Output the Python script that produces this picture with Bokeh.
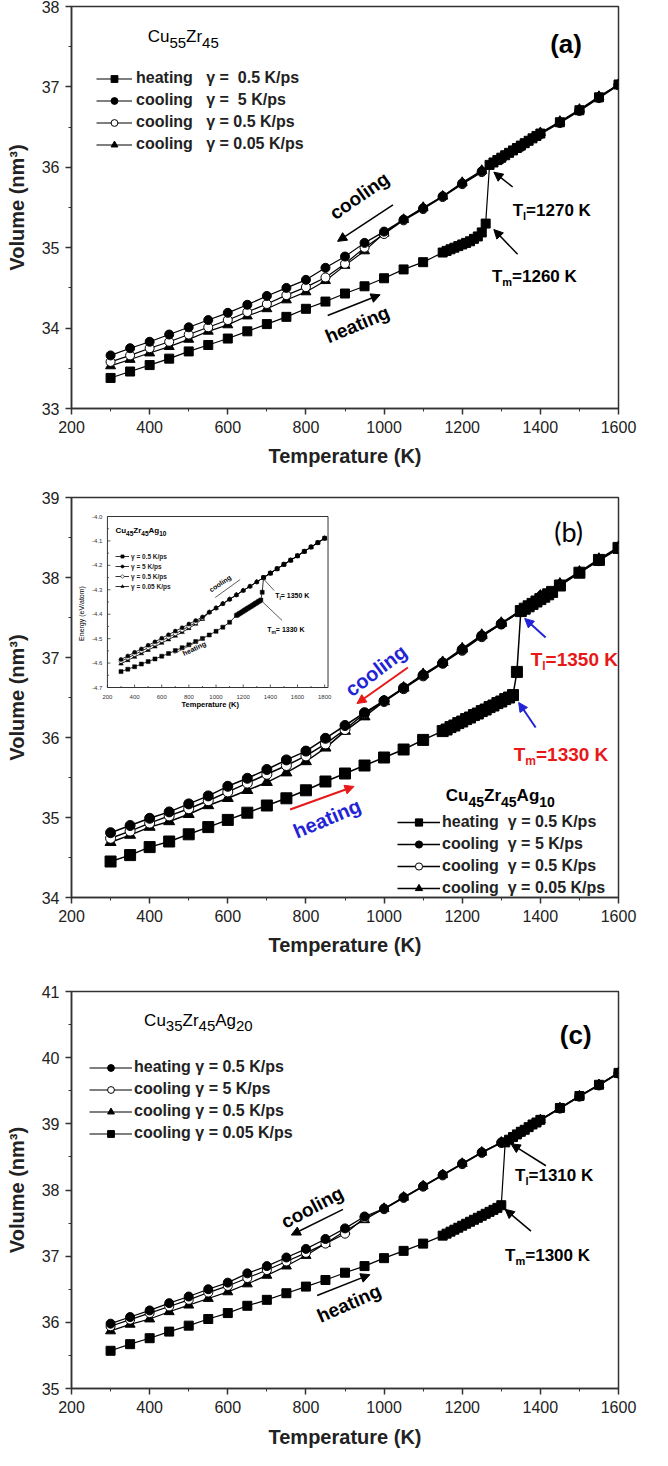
import math
from bokeh.plotting import figure
from bokeh.models import (Range1d, Arrow, NormalHead, Legend, LegendItem,
                          FixedTicker, ColumnDataSource)
from bokeh.layouts import column
from bokeh.embed import file_html
from bokeh.resources import INLINE
from bokeh.core.properties import value

FONT = "Liberation Sans"
INK = "#222222"

# ---------------- data ----------------
X_TICKS = [200, 400, 600, 800, 1000, 1200, 1400, 1600]
X_MINOR = [300, 500, 700, 900, 1100, 1300, 1500]
A_Y_TICKS = [33, 34, 35, 36, 37, 38]
A_Y_MINOR = [33.5, 34.5, 35.5, 36.5, 37.5]
B_Y_TICKS = [34, 35, 36, 37, 38, 39]
B_Y_MINOR = [34.5, 35.5, 36.5, 37.5, 38.5]
C_Y_TICKS = [35, 36, 37, 38, 39, 40, 41]
C_Y_MINOR = [35.5, 36.5, 37.5, 38.5, 39.5, 40.5]

# panel (a) Cu55Zr45
A_HEAT_T = [300, 350, 400, 450, 500, 550, 600, 650, 700, 750, 800, 850, 900, 950, 1000, 1050, 1100,
            1150, 1160, 1170, 1180, 1190, 1200, 1210, 1220, 1230, 1240, 1250, 1260,
            1270, 1280, 1290, 1300, 1310, 1320, 1330, 1340, 1350, 1360, 1370, 1380, 1390, 1400,
            1450, 1500, 1550, 1600]
A_HEAT_V = [33.38, 33.46, 33.54, 33.62, 33.71, 33.79, 33.87, 33.96, 34.05, 34.14, 34.24, 34.33, 34.43, 34.52, 34.62, 34.73, 34.82,
            34.94, 34.96, 34.98, 35.00, 35.02, 35.04, 35.06, 35.08, 35.11, 35.14, 35.19, 35.30,
            36.03, 36.06, 36.09, 36.12, 36.15, 36.18, 36.21, 36.24, 36.27, 36.30, 36.33, 36.36, 36.39, 36.42,
            36.56, 36.71, 36.87, 37.03]
A_COOL_T = [300, 350, 400, 450, 500, 550, 600, 650, 700, 750, 800, 850, 900, 950, 1000,
            1050, 1100, 1150, 1200, 1250, 1300, 1350, 1400, 1450, 1500, 1550, 1600]
A_C5_V = [33.66, 33.75, 33.83, 33.92, 34.01, 34.10, 34.19, 34.29, 34.40, 34.50, 34.60, 34.75, 34.89, 35.06, 35.20,
          35.35, 35.49, 35.64, 35.80, 35.95, 36.11, 36.26, 36.42, 36.56, 36.71, 36.87, 37.03]
A_C05_V = [33.58, 33.66, 33.75, 33.83, 33.92, 34.01, 34.10, 34.20, 34.30, 34.41, 34.51, 34.63, 34.80, 35.00, 35.17,
           35.34, 35.48, 35.63, 35.79, 35.94, 36.10, 36.25, 36.41, 36.55, 36.70, 36.86, 37.02]
A_C005_V = [33.53, 33.61, 33.69, 33.77, 33.86, 33.96, 34.04, 34.15, 34.24, 34.35, 34.45, 34.59, 34.78, 34.96, 35.18,
            35.35, 35.50, 35.64, 35.81, 35.96, 36.12, 36.27, 36.43, 36.57, 36.72, 36.88, 37.03]

# panel (b) Cu45Zr45Ag10
B_HEAT_T = [300, 350, 400, 450, 500, 550, 600, 650, 700, 750, 800, 850, 900, 950, 1000, 1050, 1100,
            1150, 1160, 1170, 1180, 1190, 1200, 1210, 1220, 1230, 1240, 1250, 1260, 1270, 1280, 1290, 1300, 1310, 1320, 1330,
            1340,
            1350, 1360, 1370, 1380, 1390, 1400, 1410, 1420, 1430,
            1450, 1500, 1550, 1600]
B_HEAT_V = [34.45, 34.53, 34.63, 34.70, 34.79, 34.88, 34.97, 35.06, 35.15, 35.24, 35.34, 35.45, 35.55, 35.65, 35.75, 35.85, 35.97,
            36.08, 36.10, 36.13, 36.15, 36.18, 36.20, 36.23, 36.25, 36.28, 36.30, 36.33, 36.35, 36.38, 36.40, 36.43, 36.45, 36.48, 36.50, 36.53,
            36.82,
            37.58, 37.61, 37.64, 37.67, 37.70, 37.73, 37.76, 37.79, 37.82,
            37.90, 38.06, 38.22, 38.37]
B_COOL_T = [300, 350, 400, 450, 500, 550, 600, 650, 700, 750, 800, 850, 900, 950,
            1000, 1050, 1100, 1150, 1200, 1250, 1300, 1350, 1400, 1450, 1500, 1550, 1600]
B_C5_V = [34.81, 34.90, 34.99, 35.07, 35.17, 35.27, 35.39, 35.49, 35.60, 35.72, 35.83, 35.99, 36.15, 36.31,
          36.46, 36.62, 36.78, 36.93, 37.10, 37.27, 37.42, 37.58, 37.76, 37.91, 38.06, 38.22, 38.37]
B_C05_V = [34.74, 34.83, 34.93, 35.02, 35.11, 35.21, 35.32, 35.43, 35.54, 35.65, 35.77, 35.92, 36.10, 36.30,
           36.45, 36.61, 36.77, 36.93, 37.09, 37.26, 37.42, 37.58, 37.75, 37.90, 38.06, 38.21, 38.36]
B_C005_V = [34.69, 34.78, 34.88, 34.95, 35.04, 35.15, 35.24, 35.34, 35.44, 35.56, 35.70, 35.87, 36.08, 36.26,
            36.45, 36.62, 36.79, 36.94, 37.11, 37.28, 37.43, 37.59, 37.77, 37.92, 38.07, 38.23, 38.38]

# inset of (b): energy
IN_X_TICKS = [200, 400, 600, 800, 1000, 1200, 1400, 1600, 1800]
IN_X_MINOR = [300, 500, 700, 900, 1100, 1300, 1500, 1700]
IN_Y_TICKS = [-4.0, -4.1, -4.2, -4.3, -4.4, -4.5, -4.6, -4.7]
IN_Y_LABELS = ["-4.0", "-4.1", "-4.2", "-4.3", "-4.4", "-4.5", "-4.6", "-4.7"]
IN_Y_MINOR = [-4.05, -4.15, -4.25, -4.35, -4.45, -4.55, -4.65]
IN_HEAT_T = [300, 350, 400, 450, 500, 550, 600, 650, 700, 750, 800, 850, 900, 950, 1000, 1050, 1100, 1150,
             1160, 1170, 1180, 1190, 1200, 1210, 1220, 1230, 1240, 1250, 1260, 1270, 1280, 1290, 1300, 1310, 1320, 1330,
             1340,
             1350, 1400, 1450, 1500, 1550, 1600, 1650, 1700, 1750, 1800]
IN_HEAT_E = [-4.635, -4.625, -4.615, -4.604, -4.594, -4.583, -4.572, -4.561, -4.549, -4.537, -4.525, -4.512, -4.499, -4.485, -4.470, -4.453, -4.433, -4.405,
             -4.402, -4.398, -4.395, -4.391, -4.388, -4.384, -4.381, -4.377, -4.374, -4.370, -4.367, -4.363, -4.360, -4.356, -4.353, -4.349, -4.346, -4.342,
             -4.310,
             -4.250, -4.232, -4.214, -4.196, -4.179, -4.161, -4.143, -4.125, -4.107, -4.089]
IN_COOL_T = [300, 350, 400, 450, 500, 550, 600, 650, 700, 750, 800, 850, 900,
             950, 1000, 1050, 1100, 1150, 1200, 1250, 1300, 1350, 1400, 1450, 1500, 1550, 1600, 1650, 1700, 1750, 1800]
IN_LIQ_E = [-4.392, -4.375, -4.357, -4.339, -4.321, -4.303, -4.286, -4.268, -4.250,
            -4.232, -4.214, -4.196, -4.179, -4.161, -4.143, -4.125, -4.107, -4.089]
IN_C5_E = [-4.585, -4.571, -4.556, -4.542, -4.527, -4.513, -4.498, -4.484, -4.469, -4.455, -4.440, -4.426, -4.411] + IN_LIQ_E
IN_C05_E = [-4.593, -4.579, -4.565, -4.551, -4.537, -4.522, -4.508, -4.494, -4.480, -4.465, -4.450, -4.434, -4.416] + IN_LIQ_E
IN_C005_E = [-4.603, -4.589, -4.575, -4.561, -4.547, -4.533, -4.518, -4.504, -4.489, -4.474, -4.458, -4.440, -4.420] + IN_LIQ_E

# panel (c) Cu35Zr45Ag20
C_SQ_T = [300, 350, 400, 450, 500, 550, 600, 650, 700, 750, 800, 850, 900, 950, 1000, 1050, 1100,
          1150, 1160, 1170, 1180, 1190, 1200, 1210, 1220, 1230, 1240, 1250, 1260, 1270, 1280, 1290, 1300,
          1310, 1320, 1330, 1340, 1350, 1360, 1370, 1380, 1390, 1400,
          1450, 1500, 1550, 1600]
C_SQ_V = [35.57, 35.67, 35.76, 35.86, 35.95, 36.05, 36.14, 36.25, 36.34, 36.44, 36.54, 36.64, 36.75, 36.85, 36.97, 37.08, 37.19,
          37.31, 37.34, 37.37, 37.40, 37.43, 37.46, 37.49, 37.52, 37.55, 37.58, 37.61, 37.64, 37.67, 37.70, 37.73, 37.77,
          38.72, 38.76, 38.80, 38.84, 38.88, 38.91, 38.95, 38.99, 39.02, 39.06,
          39.24, 39.42, 39.59, 39.77]
C_COOL_T = [300, 350, 400, 450, 500, 550, 600, 650, 700, 750, 800, 850, 900, 950,
            1000, 1050, 1100, 1150, 1200, 1250, 1300, 1350, 1400, 1450, 1500, 1550, 1600]
C_FC_V = [35.98, 36.08, 36.18, 36.29, 36.39, 36.50, 36.60, 36.74, 36.85, 36.98, 37.11, 37.26, 37.42, 37.60,
          37.72, 37.89, 38.06, 38.23, 38.40, 38.57, 38.72, 38.88, 39.06, 39.24, 39.42, 39.59, 39.77]
C_OC_V = [35.94, 36.04, 36.14, 36.24, 36.34, 36.45, 36.55, 36.67, 36.79, 36.92, 37.05, 37.19, 37.34, 37.58,
          37.71, 37.88, 38.05, 38.22, 38.39, 38.56, 38.71, 38.87, 39.05, 39.23, 39.41, 39.58, 39.76]
C_TR_V = [35.87, 35.97, 36.05, 36.16, 36.26, 36.36, 36.46, 36.58, 36.71, 36.85, 37.01, 37.19, 37.38, 37.55,
          37.72, 37.89, 38.06, 38.23, 38.40, 38.57, 38.72, 38.88, 39.06, 39.24, 39.42, 39.59, 39.77]

# ---------------- geometry (page pixels of the reference) ----------------
GA = dict(px=(76, 629), py=(9.5, 416), x=(200, 1600), y=(38, 33))
GB = dict(px=(79, 627), py=(507, 907), x=(200, 1600), y=(39, 34))
GC = dict(px=(76, 626), py=(1003, 1404), x=(200, 1600), y=(41, 35))
GI = dict(px=(115, 336), py=(526, 697), x=(200, 1825), y=(-4.0, -4.7))


def d(g, px, py):
    (a0, a1), (b0, b1) = g["px"], g["py"]
    (x0, x1), (y0, y1) = g["x"], g["y"]
    return (x0 + (px - a0) / (a1 - a0) * (x1 - x0),
            y0 + (py - b0) / (b1 - b0) * (y1 - y0))


BOLD_W = {'C': .722, 'u': .611, 'Z': .611, 'r': .389, 'A': .722, 'g': .611, 'T': .611, 'l': .278,
          'm': .889, '=': .584, ' ': .278, 'K': .722}
REG_W = {'C': .722, 'u': .556, 'Z': .611, 'r': .333, 'A': .667, 'g': .556, 'T': .611, 'l': .222,
         'm': .833, '=': .584, ' ': .278, 'K': .667}


def tw(s, fs, style):
    t = BOLD_W if style == "bold" else REG_W
    return sum(t.get(c, 0.556) for c in s) * fs


def txt(p, x, y, s, size, color="black", style="bold", align="left", baseline="alphabetic",
        angle=0.0, xo=0.0, yo=0.0, font=FONT, rn=None):
    kw = {}
    if rn:
        kw = dict(x_range_name=rn[0], y_range_name=rn[1])
    p.text(x=[x], y=[y], text=[s], x_offset=xo, y_offset=yo, angle=angle,
           text_font=value(font), text_font_size=value(f"{size}px"), text_font_style=style,
           text_color=color, text_align=align, text_baseline=baseline, **kw)


def ptxt(p, g, px, py, s, size, rn=None, **kw):
    x, y = d(g, px, py)
    txt(p, x, y, s, size, rn=rn, **kw)


def rich(p, g, px, py, parts, size, sub, drop, color="black", style="bold", rn=None):
    x, y = d(g, px, py)
    off = 0.0
    for s, is_sub in parts:
        fs = sub if is_sub else size
        txt(p, x, y, s, fs, color=color, style=style, xo=off, yo=(drop if is_sub else 0), rn=rn)
        off += tw(s, fs, style)


def arrow(p, g, p0, p1, color="black", lw=1.5, head=9):
    x0, y0 = d(g, *p0)
    x1, y1 = d(g, *p1)
    p.add_layout(Arrow(end=NormalHead(size=head, fill_color=color, line_color=color, line_width=1),
                       x_start=x0, y_start=y0, x_end=x1, y_end=y1,
                       line_color=color, line_width=lw))


def make_fig(h, top, bottom, left, frame_w, yr, yticks, yminor):
    p = figure(width=660, height=h, x_range=Range1d(200, 1600), y_range=Range1d(*yr),
               output_backend="svg", toolbar_location=None,
               min_border_left=left, min_border_right=660 - left - frame_w,
               min_border_top=top, min_border_bottom=bottom)
    p.xaxis.ticker = FixedTicker(ticks=X_TICKS, minor_ticks=X_MINOR)
    p.yaxis.ticker = FixedTicker(ticks=yticks, minor_ticks=yminor)
    p.xaxis.axis_label = "Temperature (K)"
    p.yaxis.axis_label = "Volume (nm³)"
    for ax in (p.xaxis, p.yaxis):
        ax.axis_line_color = "#333333"
        ax.axis_line_width = 1.5
        ax.major_tick_line_color = "#333333"
        ax.minor_tick_line_color = "#333333"
        ax.major_tick_line_width = 1.5
        ax.major_tick_out = 6
        ax.major_tick_in = 0
        ax.minor_tick_out = 3
        ax.minor_tick_in = 0
        ax.major_label_text_font = FONT
        ax.major_label_text_font_size = "16px"
        ax.major_label_text_color = INK
        ax.axis_label_text_font = FONT
        ax.axis_label_text_font_size = "20px"
        ax.axis_label_text_font_style = "bold"
        ax.axis_label_text_color = INK
        ax.major_label_standoff = 6
    p.xaxis.axis_label_standoff = 9
    p.yaxis.axis_label_standoff = 11
    p.grid.visible = False
    p.outline_line_color = "#333333"
    p.outline_line_width = 1.5
    p.outline_line_alpha = 1.0
    return p


def series(p, T, V, marker, size, fill, lw=1.2, mlw=1.0, rn=None, line_color="black"):
    kw = {}
    if rn:
        kw = dict(x_range_name=rn[0], y_range_name=rn[1])
    src = ColumnDataSource(dict(T=T, V=V))
    l = p.line("T", "V", source=src, line_color=line_color, line_width=lw, **kw)
    s = p.scatter("T", "V", source=src, marker=marker, size=size, fill_color=fill,
                  line_color="black", line_width=mlw, **kw)
    return [l, s]


def legend(p, items, loc, fs, gw, gh, spacing, standoff=4):
    leg = Legend(items=[LegendItem(label=lab, renderers=r) for lab, r in items], location=loc,
                 label_text_font=FONT, label_text_font_size=f"{fs}px", label_text_font_style="bold",
                 label_text_color=INK, glyph_width=gw, glyph_height=gh, label_height=gh,
                 spacing=spacing, padding=0, margin=0, label_standoff=standoff,
                 border_line_alpha=0, background_fill_alpha=0)
    p.add_layout(leg)


# ================= panel (a) =================
pa = make_fig(483, 6, 75, 68, 553, (33, 38), A_Y_TICKS, A_Y_MINOR)
ra4 = series(pa, A_COOL_T, A_C005_V, "triangle", 10, "black")
ra3 = series(pa, A_COOL_T, A_C05_V, "circle", 9, "white")
ra2 = series(pa, A_COOL_T, A_C5_V, "circle", 9, "black")
ra1 = series(pa, A_HEAT_T, A_HEAT_V, "square", 9, "black")
legend(pa, [("heating   γ =  0.5 K/ps", ra1), ("cooling   γ =  5 K/ps", ra2),
            ("cooling   γ = 0.5 K/ps", ra3), ("cooling   γ = 0.05 K/ps", ra4)],
       (25, 255), 16, 36, 17, 4)
rich(pa, GA, 153, 40, [("Cu", 0), ("55", 1), ("Zr", 0), ("45", 1)], 17, 15, 6, style="normal")
ptxt(pa, GA, 576, 47, "(a)", 26, align="center", baseline="middle")
ptxt(pa, GA, 367, 201, "cooling", 19, align="center", baseline="middle", angle=math.radians(35))
arrow(pa, GA, (401, 210), (345, 247))
ptxt(pa, GA, 365, 331, "heating", 19, align="center", baseline="middle", angle=math.radians(23))
arrow(pa, GA, (335, 322), (388, 301))
arrow(pa, GA, (522, 192), (503, 177))
rich(pa, GA, 522, 216, [("T", 0), ("l", 1), ("=1270 K", 0)], 17, 11, 5)
arrow(pa, GA, (527, 260), (503, 235))
rich(pa, GA, 501, 283, [("T", 0), ("m", 1), ("=1260 K", 0)], 17, 11, 5)

# ================= panel (b) =================
pb = make_fig(494, 14, 80, 71, 548, (34, 39), B_Y_TICKS, B_Y_MINOR)
# inset ranges mapped onto the frame of (b)
fx0 = (GI["px"][0] - GB["px"][0]) / (GB["px"][1] - GB["px"][0])
fx1 = (GI["px"][1] - GB["px"][0]) / (GB["px"][1] - GB["px"][0])
fy0 = (GI["py"][0] - GB["py"][0]) / (GB["py"][1] - GB["py"][0])
fy1 = (GI["py"][1] - GB["py"][0]) / (GB["py"][1] - GB["py"][0])
kx = (GI["x"][1] - GI["x"][0]) / (fx1 - fx0)
ix0 = GI["x"][0] - fx0 * kx
ky = (GI["y"][0] - GI["y"][1]) / (fy1 - fy0)
iy_top = GI["y"][0] + fy0 * ky
pb.extra_x_ranges = {"ix": Range1d(ix0, ix0 + kx)}
pb.extra_y_ranges = {"iy": Range1d(iy_top - ky, iy_top)}
RN = ("ix", "iy")

rb4 = series(pb, B_COOL_T, B_C005_V, "triangle", 11, "black", lw=1.5)
rb3 = series(pb, B_COOL_T, B_C05_V, "circle", 10, "white", lw=1.5)
rb2 = series(pb, B_COOL_T, B_C5_V, "circle", 10, "black", lw=1.5)
rb1 = series(pb, B_HEAT_T, B_HEAT_V, "square", 11, "black", lw=1.5)
legend(pb, [("heating  γ = 0.5 K/ps", rb1), ("cooling  γ = 5 K/ps", rb2),
            ("cooling  γ = 0.5 K/ps", rb3), ("cooling  γ = 0.05 K/ps", rb4)],
       (326, 0), 16, 43, 18, 4, standoff=2)
rich(pb, GB, 454, 805, [("Cu", 0), ("45", 1), ("Zr", 0), ("45", 1), ("Ag", 0), ("10", 1)], 17, 14, 6)
ptxt(pb, GB, 577, 541, "(b)", 27, align="center", baseline="middle", style="normal", font="Lato")
BLUE = "#2323d6"
RED = "#e81818"
ptxt(pb, GB, 384, 680, "cooling", 20, color=BLUE, align="center", baseline="middle", angle=math.radians(37))
arrow(pb, GB, (416, 677), (365, 713), color=RED, lw=2)
ptxt(pb, GB, 335, 828, "heating", 20, color=BLUE, align="center", baseline="middle", angle=math.radians(23))
arrow(pb, GB, (298, 819), (362, 796), color=RED, lw=2)
arrow(pb, GB, (554, 647), (533, 628), color=BLUE, lw=2)
rich(pb, GB, 539, 669, [("T", 0), ("l", 1), ("=1350 K", 0)], 19, 12, 6, color=RED)
arrow(pb, GB, (544, 737), (527, 712), color=BLUE, lw=2)
rich(pb, GB, 522, 764, [("T", 0), ("m", 1), ("=1330 K", 0)], 19, 12, 6, color=RED)

# ---- inset ----
pb.quad(left=[GI["x"][0]], right=[GI["x"][1]], bottom=[GI["y"][1]], top=[GI["y"][0]],
        fill_color="white", line_color="#333333", line_width=1, x_range_name="ix", y_range_name="iy")
pb.ray(x=IN_X_TICKS, y=[GI["y"][1]] * len(IN_X_TICKS), length=3, angle=math.pi / 2,
       length_units="screen", line_color="#333333", line_width=0.8, x_range_name="ix", y_range_name="iy")
pb.ray(x=IN_X_MINOR, y=[GI["y"][1]] * len(IN_X_MINOR), length=1.5, angle=math.pi / 2,
       length_units="screen", line_color="#333333", line_width=0.8, x_range_name="ix", y_range_name="iy")
pb.ray(x=[GI["x"][0]] * len(IN_Y_TICKS), y=IN_Y_TICKS, length=3, angle=0,
       length_units="screen", line_color="#333333", line_width=0.8, x_range_name="ix", y_range_name="iy")
pb.ray(x=[GI["x"][0]] * len(IN_Y_MINOR), y=IN_Y_MINOR, length=1.5, angle=0,
       length_units="screen", line_color="#333333", line_width=0.8, x_range_name="ix", y_range_name="iy")
lab_y = d(GI, 0, 706)[1]
pb.text(x=IN_X_TICKS, y=[lab_y] * len(IN_X_TICKS), text=[str(t) for t in IN_X_TICKS],
        text_font=value(FONT), text_font_size=value("6px"), text_color="#333333",
        text_align="center", text_baseline="middle", x_range_name="ix", y_range_name="iy")
lab_x = d(GI, 110, 0)[0]
pb.text(x=[lab_x] * len(IN_Y_TICKS), y=IN_Y_TICKS, text=IN_Y_LABELS,
        text_font=value(FONT), text_font_size=value("6px"), text_color="#333333",
        text_align="right", text_baseline="middle", x_range_name="ix", y_range_name="iy")
ptxt(pb, GI, 89, 623, "Energy (eV/atom)", 7, rn=RN, style="normal", align="center", baseline="middle",
     angle=math.pi / 2)
ptxt(pb, GI, 218, 714, "Temperature (K)", 7.5, rn=RN, align="center", baseline="middle")
ri4 = series(pb, IN_COOL_T, IN_C005_E, "triangle", 4.5, "black", lw=0.8, mlw=0.5, rn=RN)
ri3 = series(pb, IN_COOL_T, IN_C05_E, "circle", 4, "white", lw=0.8, mlw=0.5, rn=RN)
ri2 = series(pb, IN_COOL_T, IN_C5_E, "circle", 4, "black", lw=0.8, mlw=0.5, rn=RN)
ri1 = series(pb, IN_HEAT_T, IN_HEAT_E, "square", 4, "black", lw=0.8, mlw=0.5, rn=RN)
leg_in = Legend(items=[LegendItem(label="γ = 0.5 K/ps", renderers=ri1),
                       LegendItem(label="γ = 5 K/ps", renderers=ri2),
                       LegendItem(label="γ = 0.5 K/ps", renderers=ri3),
                       LegendItem(label="γ = 0.05 K/ps", renderers=ri4)],
                location=(44, 307), label_text_font=FONT, label_text_font_size="6.5px",
                label_text_font_style="bold", label_text_color=INK, glyph_width=14, glyph_height=8,
                label_height=8, spacing=2, padding=0, margin=0, label_standoff=2,
                border_line_alpha=0, background_fill_alpha=0)
pb.add_layout(leg_in)
rich(pb, GI, 123, 540, [("Cu", 0), ("45", 1), ("Zr", 0), ("45", 1), ("Ag", 0), ("10", 1)], 8, 6.5, 2.5, rn=RN)
ptxt(pb, GI, 228, 593, "cooling", 7, rn=RN, align="center", baseline="middle", angle=math.radians(34))
ptxt(pb, GI, 202, 658, "heating", 7, rn=RN, align="center", baseline="middle", angle=math.radians(25))
seg_px = [((248, 589), (223, 607)), ((182, 663), (213, 647)), ((271, 588), (282, 600)), ((270, 611), (290, 630))]
pb.segment(x0=[d(GI, *a)[0] for a, b in seg_px], y0=[d(GI, *a)[1] for a, b in seg_px],
           x1=[d(GI, *b)[0] for a, b in seg_px], y1=[d(GI, *b)[1] for a, b in seg_px],
           line_color="#333333", line_width=0.8, x_range_name="ix", y_range_name="iy")
rich(pb, GI, 283, 605, [("T", 0), ("l", 1), ("= 1350 K", 0)], 7, 5, 2, rn=RN)
rich(pb, GI, 275, 639, [("T", 0), ("m", 1), ("= 1330 K", 0)], 7, 5, 2, rn=RN)

# ================= panel (c) =================
pc = make_fig(473, 14, 60, 68, 550, (35, 41), C_Y_TICKS, C_Y_MINOR)
pc.xaxis.axis_label_standoff = 10
rc3 = series(pc, C_COOL_T, C_TR_V, "triangle", 10, "black")
rc2 = series(pc, C_COOL_T, C_OC_V, "circle", 9, "white")
rc1 = series(pc, C_COOL_T, C_FC_V, "circle", 9, "black")
rc4 = series(pc, C_SQ_T, C_SQ_V, "square", 9, "black")
legend(pc, [("heating γ = 0.5 K/ps", rc1), ("cooling γ = 5 K/ps", rc2),
            ("cooling γ = 0.5 K/ps", rc3), ("cooling γ = 0.05 K/ps", rc4)],
       (18, 246), 16, 43, 17, 4, standoff=2)
rich(pc, GC, 149, 1032, [("Cu", 0), ("35", 1), ("Zr", 0), ("45", 1), ("Ag", 0), ("20", 1)], 17, 15, 6, style="normal")
ptxt(pc, GC, 583, 1047, "(c)", 26, align="center", baseline="middle")
ptxt(pc, GC, 318, 1221, "cooling", 19, align="center", baseline="middle", angle=math.radians(28))
arrow(pc, GC, (349, 1223), (297, 1249))
ptxt(pc, GC, 355, 1318, "heating", 19, align="center", baseline="middle", angle=math.radians(24))
arrow(pc, GC, (323, 1310), (376, 1289))
arrow(pc, GC, (553, 1179), (518, 1157))
rich(pc, GC, 522, 1189, [("T", 0), ("l", 1), ("=1310 K", 0)], 17, 11, 5)
arrow(pc, GC, (538, 1245), (512, 1223))
rich(pc, GC, 512, 1270, [("T", 0), ("m", 1), ("=1300 K", 0)], 17, 11, 5)

layout = column(pa, pb, pc, spacing=0)
open("out.html", "w").write(file_html(layout, INLINE))
